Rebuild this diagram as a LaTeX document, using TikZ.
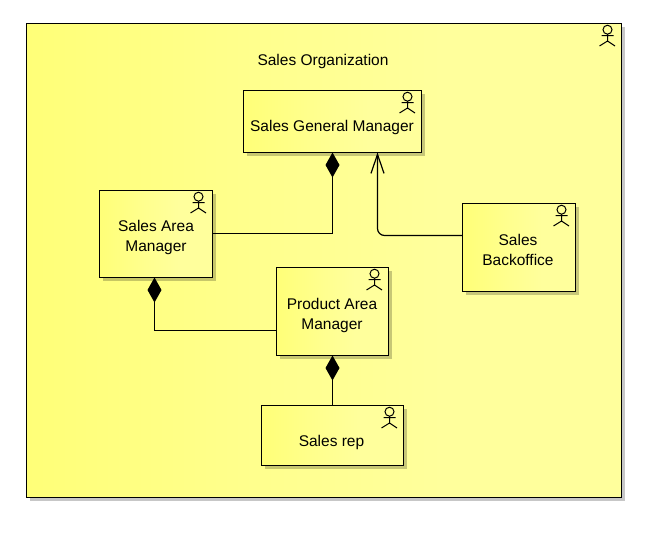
\documentclass[tikz,border=0pt]{standalone}
\usepackage{fontspec}
\setmainfont{Liberation Sans}
\usetikzlibrary{arrows.meta,shadows,calc}
\definecolor{archiA}{HTML}{FFFF78}
\definecolor{archiB}{HTML}{FFFF8E}
\definecolor{archiC}{HTML}{FFFF9C}
\pgfdeclarehorizontalshading{archi}{100bp}{
  color(0bp)=(archiA); color(25bp)=(archiA); color(45bp)=(archiB);
  color(60bp)=(archiC); color(100bp)=(archiC)}
\tikzset{
  x=1pt,y=-1pt,
  actorbox/.style={draw=black,line width=1.2pt,shading=archi,anchor=north west,inner sep=0pt,outer sep=0pt,
    drop shadow={shadow xshift=3.5pt,shadow yshift=-3.5pt,opacity=.22,fill=black}},
  boxtext/.style={font=\fontsize{15.5}{20}\selectfont,align=center,text=black,inner sep=0pt},
  conn/.style={draw=black,line width=1.2pt},
  whole/.style={conn,{Diamond[length=25pt,width=14pt,fill=black]}-},
  assign/.style={conn,rounded corners=7pt,-{Straight Barb[length=19pt,width=13pt,line width=1.2pt]}},
  actor/.pic={
    \draw[black,line width=1pt] (-14,6.2) circle[radius=4.5];
    \draw[black,line width=1pt] (-14,10.7) -- (-14,17.5) (-20,12) -- (-8,12) (-22,22.5) -- (-14,17.5) -- (-6.5,22.5);
  }
}
\begin{document}
\begin{tikzpicture}
\useasboundingbox (0,0) rectangle (656,541);
\fill[white] (0,0) rectangle (656,541);
\node[actorbox,minimum width=595pt,minimum height=474pt] (org) at (26.5,23.5) {};
\node[boxtext] (orgt) at (323,61.5) {Sales Organization};
\node[actorbox,minimum width=178pt,minimum height=62pt] (sgm) at (243.5,90.5) {};
\node[actorbox,minimum width=113pt,minimum height=87pt] (sam) at (99.5,190.5) {};
\node[actorbox,minimum width=113pt,minimum height=88pt] (sb) at (462.5,203.5) {};
\node[actorbox,minimum width=112pt,minimum height=88pt] (pam) at (276.5,267.5) {};
\node[actorbox,minimum width=142pt,minimum height=60pt] (sr) at (261.5,405.5) {};
\node[boxtext] (sgmt) at (332,127.5) {Sales General Manager};
\node[boxtext] (samt) at (156,237) {Sales Area\\Manager};
\node[boxtext] (sbt) at (518,250) {Sales\\Backoffice};
\node[boxtext] (pamt) at (332,315.5) {Product Area\\Manager};
\node[boxtext] (srt) at (331.5,442.5) {Sales rep};
\foreach \n in {org,sgm,sam,sb,pam,sr} \pic at (\n.north east) {actor};
\draw[whole] (sgm.south) -- ([yshift=.5pt]sam.east -| sgm.south) -- ([yshift=.5pt]sam.east);
\draw[whole] ([xshift=-1.5pt]sam.south) |- ([yshift=-19pt]pam.west);
\draw[whole] (pam.south) -- (sr.north -| pam.south);
\draw[assign] ([yshift=12pt]sb.west) -| ([xshift=45pt]sgm.south);
\end{tikzpicture}
\end{document}
